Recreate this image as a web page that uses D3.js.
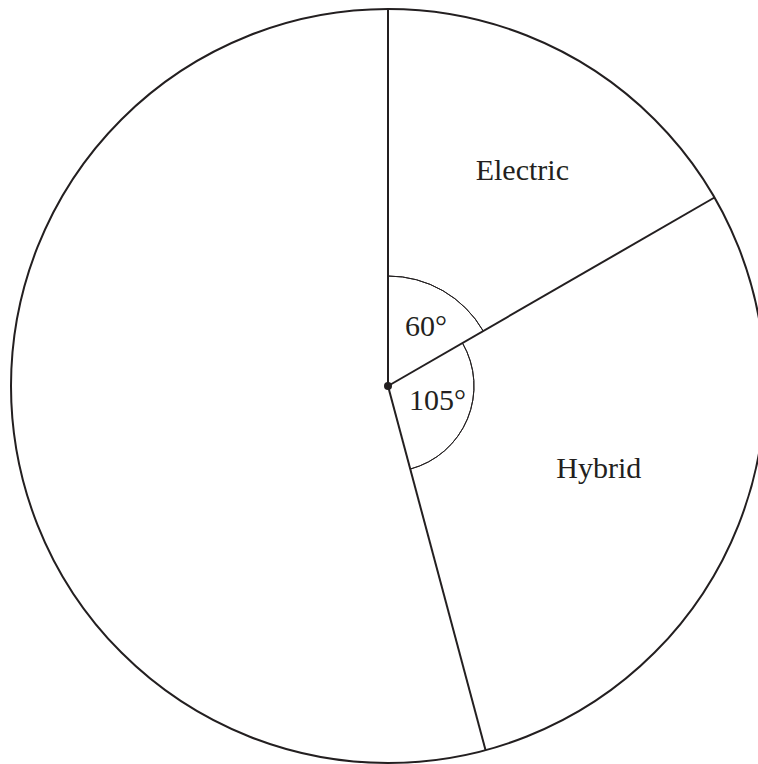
<!DOCTYPE html>
<html><head><meta charset="utf-8">
<script src="https://cdn.jsdelivr.net/npm/d3@7/dist/d3.min.js"></script>
<style>html,body{margin:0;padding:0;background:#fff;overflow:hidden}</style>
</head><body>
<svg id="chart" width="758" height="764"></svg>
<script>
const categories = ["Electric", "Hybrid", "Other"];
const angles = [60, 105, 195];
const showName = [true, true, false];
const angleLabels = ["60°", "105°", null];

const W = 758, H = 764;
const cx = 388, cy = 386, R = 377;
// label placement (polar: radius, angular offset from slice middle in degrees), anchored at text baseline centre
const nameRadius = [246, 230, 0];
const nameOffset = [3.1, 1.1, 0];
const arcRadius = [110, 86, 0];
const angleTextRadius = [63, 55, 0];
const angleTextOffset = [7.2, 3.6, 0];
const FONT = "Liberation Serif, Times New Roman, serif";

const svg = d3.select("#chart");
const g = svg.append("g").attr("transform", `translate(${cx},${cy})`);
const data = categories.map((c, i) => ({name: c, value: angles[i], i}));
const pie = d3.pie().sort(null).value(d => d.value).startAngle(0).endAngle(2 * Math.PI);
const arcs = pie(data);
const pt = (a, r) => [r * Math.sin(a), -r * Math.cos(a)];
const rad = deg => deg * Math.PI / 180;

g.append("circle").attr("r", R).attr("fill", "none").attr("stroke", "#231f20").attr("stroke-width", 2);

g.selectAll("line.spoke").data(arcs).join("line").attr("class", "spoke")
  .attr("x1", 0).attr("y1", 0)
  .attr("x2", d => pt(d.startAngle, R)[0]).attr("y2", d => pt(d.startAngle, R)[1])
  .attr("stroke", "#231f20").attr("stroke-width", 2);

arcs.forEach((d, i) => {
  if (!angleLabels[i]) return;
  const arc = d3.arc().innerRadius(arcRadius[i]).outerRadius(arcRadius[i]).startAngle(d.startAngle).endAngle(d.endAngle);
  g.append("path").attr("d", arc()).attr("fill", "none").attr("stroke", "#231f20").attr("stroke-width", 1);
  const m = (d.startAngle + d.endAngle) / 2 + rad(angleTextOffset[i]);
  const p = pt(m, angleTextRadius[i]);
  g.append("text").attr("x", p[0]).attr("y", p[1]).attr("text-anchor", "middle")
    .attr("font-family", FONT).attr("font-size", 30).attr("fill", "#231f20")
    .text(angleLabels[i]);
});

arcs.forEach((d, i) => {
  if (!showName[i]) return;
  const m = (d.startAngle + d.endAngle) / 2 + rad(nameOffset[i]);
  const p = pt(m, nameRadius[i]);
  g.append("text").attr("x", p[0]).attr("y", p[1]).attr("text-anchor", "middle")
    .attr("font-family", FONT).attr("font-size", 30).attr("fill", "#231f20")
    .text(d.data.name);
});

g.append("circle").attr("r", 4).attr("fill", "#231f20");
</script>
</body></html>
